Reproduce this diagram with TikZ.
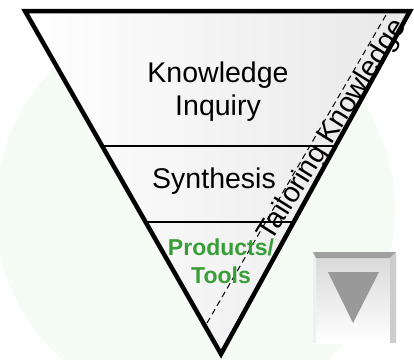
\documentclass[tikz,border=0pt]{standalone}
\usepackage{fontspec}
\setmainfont{Liberation Sans}
\usetikzlibrary{calc}
\definecolor{blobgreen}{RGB}{245,251,245}
\definecolor{prodgreen}{RGB}{56,158,56}
\definecolor{bevelgray}{RGB}{160,160,160}
\definecolor{sidegray}{RGB}{205,205,205}
\definecolor{facegray}{RGB}{215,215,215}
\definecolor{arrowgray}{RGB}{153,153,153}
\begin{document}
\begin{tikzpicture}[x=1pt,y=-1pt]
  \useasboundingbox (0,0) rectangle (414,359);
  \tikzstyle{level}=[font=\fontsize{28.5}{33}\selectfont, align=center, anchor=base, inner sep=0pt]
  \tikzstyle{product}=[level, font=\fontsize{23}{28}\selectfont\bfseries, text=prodgreen]
  \tikzstyle{divider}=[line width=1.5pt]

  \fill [blobgreen] (195,210) circle [radius=200];  % Hintergrund.

  \coordinate (tl)  at (25,  11);
  \coordinate (tr)  at (410, 11);
  \coordinate (bot) at (221, 354);

  \shade [left color=white, right color=gray!18] (tl) -- (tr) -- (bot) -- cycle;
  \draw [divider] ($(tl)!0.394!(bot)$) -- ($(tr)!0.394!(bot)$);
  \draw [divider] ($(tl)!0.615!(bot)$) -- ($(tr)!0.615!(bot)$);

  \coordinate (dlow) at (207, 323);
  \coordinate (dtop) at (386, 15);
  \draw [line width=1pt, dash pattern=on 6pt off 4pt] (dlow) -- (dtop);

  \draw [line width=4.5pt, line join=miter] (tl) -- (tr) -- (bot) -- cycle;

  % base = Grundlinie der letzten Zeile.
  \node[level]   (inquiry)   at (218, 115) {Knowledge\\Inquiry};
  \node[level]   (synthesis) at (214, 188) {Synthesis};
  \node[product] (products)  at (221, 283) {Products/\\Tools};
  \node[level, rotate=58] (tailoring) at (339, 134) {Tailoring Knowledge};

  % Knopf unten rechts.
  \shade [top color=facegray, bottom color=white] (313,252) rectangle (396,343);
  \fill [gray!12]    (313,252) -- (316,258) -- (316,343) -- (313,343) -- cycle;
  \fill [bevelgray]  (313,252) -- (396,252) -- (390,258) -- (316,258) -- cycle;
  \fill [sidegray]   (396,252) -- (396,343) -- (390,343) -- (390,258) -- cycle;
  \fill [arrowgray]  (328,272) -- (379,272) -- (353,323) -- cycle;
\end{tikzpicture}
\end{document}
